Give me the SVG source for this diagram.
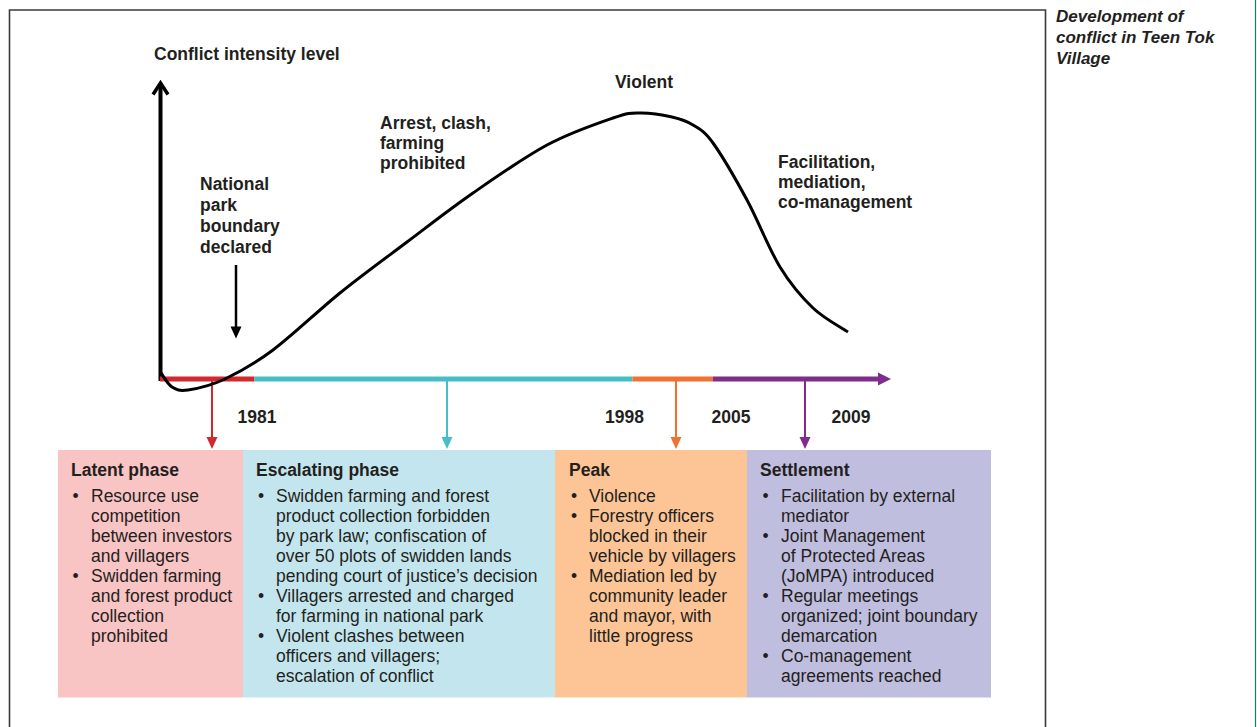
<svg xmlns="http://www.w3.org/2000/svg" width="1257" height="727" viewBox="0 0 1257 727">
<style>
text{font-family:"Liberation Sans",Arial,sans-serif;fill:#231f20;}
.b{font-weight:bold;font-size:17.5px;}
.t{font-size:17.5px;}
.ti{font-weight:bold;font-style:italic;font-size:17px;}
.bul{font-size:17.5px;text-anchor:middle;}
</style>
<rect x="0" y="0" width="1257" height="727" fill="#ffffff"/>
<path d="M9.5,730 V10 H1045.5 V730" fill="none" stroke="#3a3a3a" stroke-width="1.6"/>
<line x1="1255.5" y1="0" x2="1255.5" y2="727" stroke="#1a7a66" stroke-width="1.2"/>
<g id="title"><text class="ti"><tspan x="1056" y="22">Development of</tspan><tspan x="1056" y="43">conflict in Teen Tok</tspan><tspan x="1056" y="64">Village</tspan></text></g>

<g id="connectors">
<!-- y axis -->
<line x1="160.5" y1="381" x2="160.5" y2="84" stroke="#000" stroke-width="4"/>
<polyline points="153,94.5 160.5,83 168,94.5" fill="none" stroke="#000" stroke-width="3.5" stroke-linejoin="miter"/>
<!-- timeline -->
<line x1="160" y1="379" x2="254.5" y2="379" stroke="#d2282e" stroke-width="5"/>
<line x1="254.5" y1="379" x2="632.5" y2="379" stroke="#45bfc5" stroke-width="5"/>
<line x1="632.5" y1="379" x2="713" y2="379" stroke="#f27030" stroke-width="5"/>
<line x1="713" y1="379" x2="880" y2="379" stroke="#7e2d8c" stroke-width="5"/>
<polygon points="878,372.5 891,379 878,385.5" fill="#7e2d8c"/>
<!-- drop arrows -->
<line x1="212" y1="381" x2="212" y2="438" stroke="#d2282e" stroke-width="2"/>
<polygon points="206.5,437 217.5,437 212,449" fill="#d2282e"/>
<line x1="447" y1="381" x2="447" y2="438" stroke="#45bfc5" stroke-width="2"/>
<polygon points="441.5,437 452.5,437 447,449" fill="#45bfc5"/>
<line x1="676" y1="381" x2="676" y2="438" stroke="#f27030" stroke-width="2"/>
<polygon points="670.5,437 681.5,437 676,449" fill="#f27030"/>
<line x1="805" y1="381" x2="805" y2="438" stroke="#7e2d8c" stroke-width="2"/>
<polygon points="799.5,437 810.5,437 805,449" fill="#7e2d8c"/>
<!-- national park arrow -->
<line x1="236" y1="265" x2="236" y2="328" stroke="#000" stroke-width="2.5"/>
<polygon points="230.5,326.5 241.5,326.5 236,338.5" fill="#000"/>
<!-- curve -->
<path d="M161,373 C162.8,375.3 167.5,384.2 172,387 C176.5,389.8 179.2,391.3 188,390 C196.8,388.7 210.8,385.7 225,379 C239.2,372.3 253.8,364.3 273,350 C292.2,335.7 317.7,311 340,293 C362.3,275 384.8,258.7 407,242 C429.2,225.3 449.7,209.2 473,193 C496.3,176.8 523.7,157.5 547,145 C570.3,132.5 597.5,123.3 613,118 C628.5,112.7 630.2,112.8 640,113 C649.8,112.8 663.2,115 672,117 C680.8,119 686.2,120.7 693,125 C699.8,129.3 704,130.5 713,143 C722,155.5 735.8,179.3 747,200 C758.2,220.7 769,249 780,267 C791,285 801.7,297.2 813,308 C824.3,318.8 842.2,328 848,332" fill="none" stroke="#000" stroke-width="3"/>
</g>

<g id="labels">
<text class="b" x="154" y="59.5">Conflict intensity level</text>
<text class="b"><tspan x="200" y="189.5">National</tspan><tspan x="200" y="210.5">park</tspan><tspan x="200" y="231.5">boundary</tspan><tspan x="200" y="252.5">declared</tspan></text>
<text class="b"><tspan x="380" y="128.5">Arrest, clash,</tspan><tspan x="380" y="148.5">farming</tspan><tspan x="380" y="168.5">prohibited</tspan></text>
<text class="b" x="615" y="87.5">Violent</text>
<text class="b"><tspan x="778" y="168">Facilitation,</tspan><tspan x="778" y="188">mediation,</tspan><tspan x="778" y="208">co-management</tspan></text>
<text class="b" x="237.5" y="423">1981</text>
<text class="b" x="605" y="423">1998</text>
<text class="b" x="711.5" y="423">2005</text>
<text class="b" x="831.5" y="423">2009</text>
</g>

<g id="latent">
<rect x="58" y="450" width="185" height="247.5" fill="#f9c4c4"/>
<text class="b" x="71" y="476">Latent phase</text>
<text class="bul"><tspan x="75.5" y="501.5">•</tspan><tspan x="75.5" y="581.5">•</tspan></text>
<text class="t"><tspan x="91" y="501.5">Resource use</tspan><tspan x="91" y="521.5">competition</tspan><tspan x="91" y="541.5">between investors</tspan><tspan x="91" y="561.5">and villagers</tspan><tspan x="91" y="581.5">Swidden farming</tspan><tspan x="91" y="601.5">and forest product</tspan><tspan x="91" y="621.5">collection</tspan><tspan x="91" y="641.5">prohibited</tspan></text>
</g>

<g id="escalating">
<rect x="243" y="450" width="312" height="247.5" fill="#c3e6ee"/>
<text class="b" x="256" y="476">Escalating phase</text>
<text class="bul"><tspan x="261" y="501.5">•</tspan><tspan x="261" y="601.5">•</tspan><tspan x="261" y="641.5">•</tspan></text>
<text class="t"><tspan x="276" y="501.5">Swidden farming and forest</tspan><tspan x="276" y="521.5">product collection forbidden</tspan><tspan x="276" y="541.5">by park law; confiscation of</tspan><tspan x="276" y="561.5">over 50 plots of swidden lands</tspan><tspan x="276" y="581.5">pending court of justice’s decision</tspan><tspan x="276" y="601.5">Villagers arrested and charged</tspan><tspan x="276" y="621.5">for farming in national park</tspan><tspan x="276" y="641.5">Violent clashes between</tspan><tspan x="276" y="661.5">officers and villagers;</tspan><tspan x="276" y="681.5">escalation of conflict</tspan></text>
</g>

<g id="peak">
<rect x="555" y="450" width="192" height="247.5" fill="#fdc596"/>
<text class="b" x="569" y="476">Peak</text>
<text class="bul"><tspan x="574" y="501.5">•</tspan><tspan x="574" y="521.5">•</tspan><tspan x="574" y="581.5">•</tspan></text>
<text class="t"><tspan x="589" y="501.5">Violence</tspan><tspan x="589" y="521.5">Forestry officers</tspan><tspan x="589" y="541.5">blocked in their</tspan><tspan x="589" y="561.5">vehicle by villagers</tspan><tspan x="589" y="581.5">Mediation led by</tspan><tspan x="589" y="601.5">community leader</tspan><tspan x="589" y="621.5">and mayor, with</tspan><tspan x="589" y="641.5">little progress</tspan></text>
</g>

<g id="settlement">
<rect x="747" y="450" width="244" height="247.5" fill="#c0bedf"/>
<text class="b" x="760" y="476">Settlement</text>
<text class="bul"><tspan x="765.5" y="501.5">•</tspan><tspan x="765.5" y="541.5">•</tspan><tspan x="765.5" y="601.5">•</tspan><tspan x="765.5" y="661.5">•</tspan></text>
<text class="t"><tspan x="781" y="501.5">Facilitation by external</tspan><tspan x="781" y="521.5">mediator</tspan><tspan x="781" y="541.5">Joint Management</tspan><tspan x="781" y="561.5">of Protected Areas</tspan><tspan x="781" y="581.5">(JoMPA) introduced</tspan><tspan x="781" y="601.5">Regular meetings</tspan><tspan x="781" y="621.5">organized; joint boundary</tspan><tspan x="781" y="641.5">demarcation</tspan><tspan x="781" y="661.5">Co-management</tspan><tspan x="781" y="681.5">agreements reached</tspan></text>
</g>
</svg>
